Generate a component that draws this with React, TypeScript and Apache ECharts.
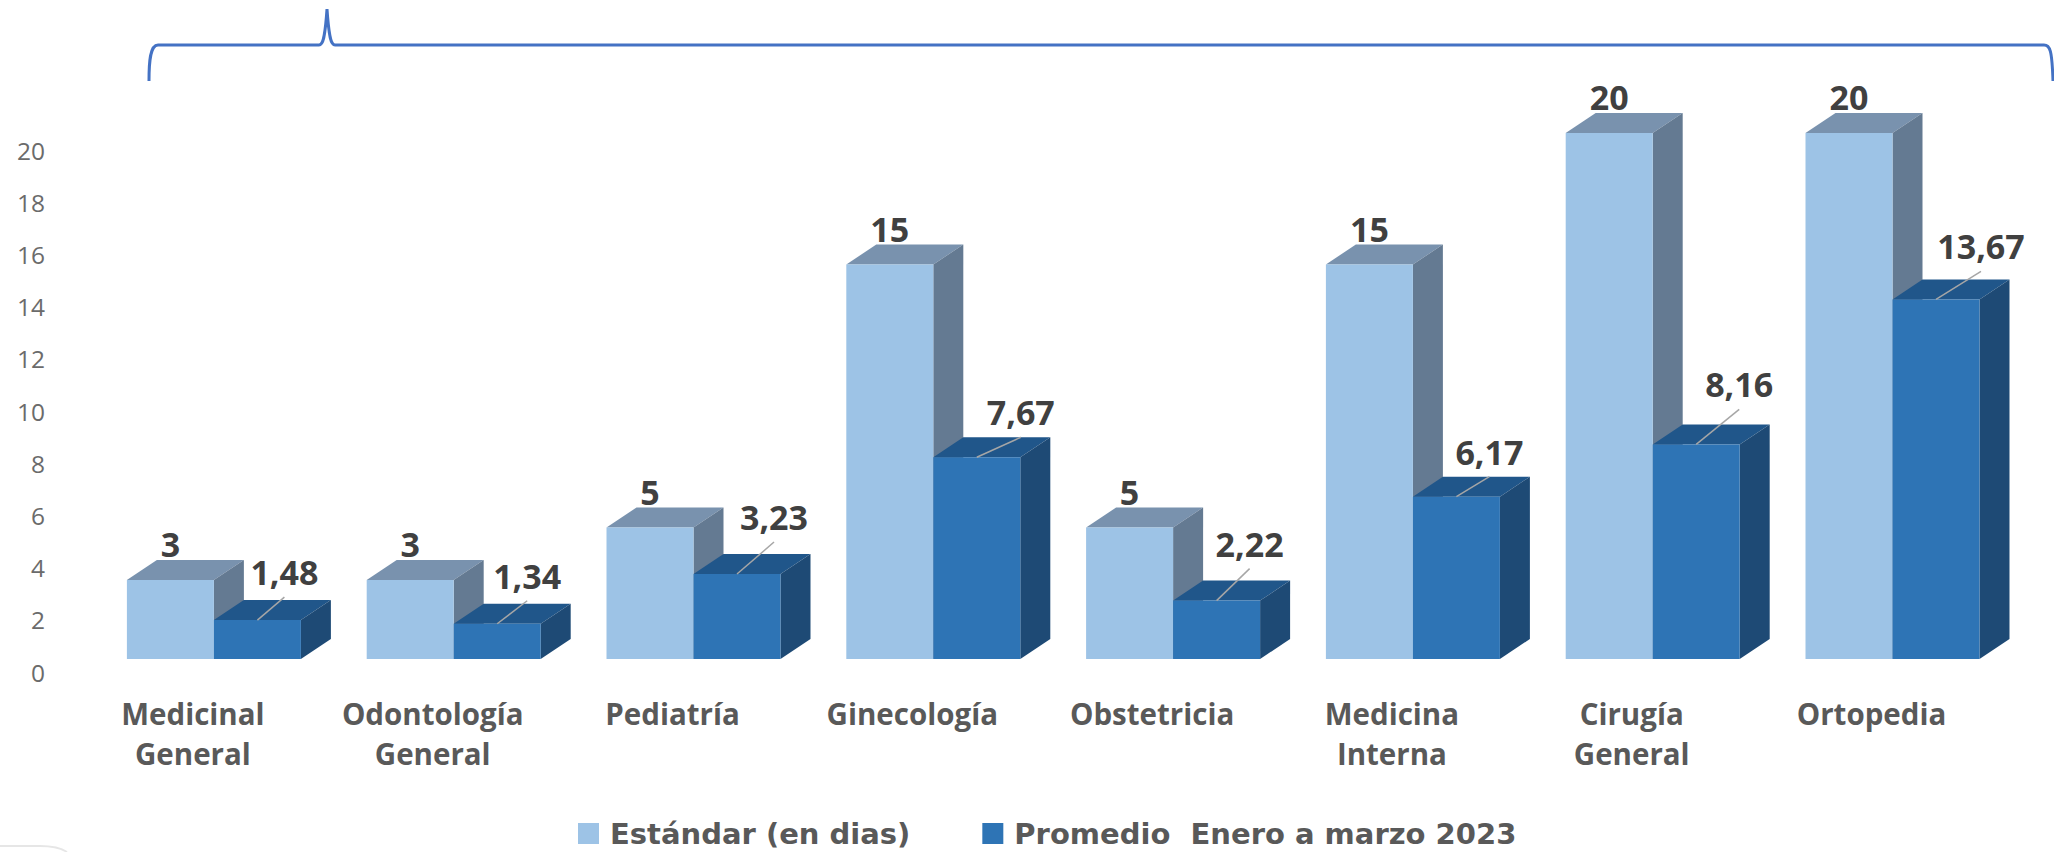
import React, { useEffect, useRef } from "react";
import * as echarts from "echarts";

const categories = [
  "Medicinal\nGeneral",
  "Odontología\nGeneral",
  "Pediatría",
  "Ginecología",
  "Obstetricia",
  "Medicina\nInterna",
  "Cirugía\nGeneral",
  "Ortopedia",
];
const estandar = [3, 3, 5, 15, 5, 15, 20, 20];
const promedio = [1.48, 1.34, 3.23, 7.67, 2.22, 6.17, 8.16, 13.67];
const axisTicks = [0, 20];

// Layout only: where each "Promedio" callout sits relative to its bar top.
const calloutDx = [27, 30, 37, 44, 33, 33, 43, 45];
const calloutDy = [-48, -48, -57, -45, -57, -45, -60, -53];

const FONT = "Open Sans";
const WIDE_FONT = "DejaVu Sans";
const DEPTH_X = 30;
const DEPTH_Y = 20;

const PAL_A = { front: "#9DC3E6", top: "#7992AE", side: "#647A92" };
const PAL_B = { front: "#2E74B5", top: "#20568A", side: "#1E4A75" };

const fmt = (v: number) => String(v).replace(".", ",");

function makeRender(pal: typeof PAL_A, first: boolean) {
  return (_params: any, api: any) => {
    const i = api.value(0);
    const v = api.value(1);
    const [cx, yTop] = api.coord([i, v]);
    const [, yBase] = api.coord([i, 0]);
    const w = api.size([1, 0])[0] * 0.3628;
    const x0 = first ? cx - w : cx;
    const x1 = x0 + w;
    const poly = (points: number[][], fill: string) => ({
      type: "polygon",
      shape: { points },
      style: { fill },
    });
    const children: any[] = [
      poly(
        [
          [x0, yTop],
          [x0 + DEPTH_X, yTop - DEPTH_Y],
          [x1 + DEPTH_X, yTop - DEPTH_Y],
          [x1, yTop],
        ],
        pal.top,
      ),
      poly(
        [
          [x1, yTop],
          [x1 + DEPTH_X, yTop - DEPTH_Y],
          [x1 + DEPTH_X, yBase - DEPTH_Y],
          [x1, yBase],
        ],
        pal.side,
      ),
      poly(
        [
          [x0, yTop],
          [x1, yTop],
          [x1, yBase],
          [x0, yBase],
        ],
        pal.front,
      ),
    ];
    const mid = (x0 + x1) / 2;
    let lx = mid;
    let ly = yTop - 36;
    if (!first) {
      lx = mid + calloutDx[i];
      ly = yTop + calloutDy[i];
      children.push({
        type: "line",
        shape: { x1: mid, y1: yTop, x2: lx, y2: ly + 25 },
        style: { stroke: "#A6A6A6", lineWidth: 1.5 },
      });
    }
    children.push({
      type: "text",
      style: {
        text: fmt(v),
        x: lx,
        y: ly,
        align: "center",
        verticalAlign: "middle",
        fontFamily: FONT,
        fontWeight: 700,
        fontSize: 34,
        fill: "#404040",
      },
    });
    return { type: "group", children };
  };
}

const BRACE =
  "M149 81 C149 62 150 45 158 45 L319 45 C323 45 325 38 327 9 C329 38 331 45 335 45 L2044 45 C2050 45 2052 50 2053 81";
const CORNER = "M0 846 L40 846 Q58 846 67 852";

export default function App() {
  const ref = useRef<HTMLDivElement>(null);
  useEffect(() => {
    document.body.style.margin = "0";
    echarts.graphic.registerShape("brace", echarts.graphic.extendPath(BRACE, {}));
    echarts.graphic.registerShape("corner", echarts.graphic.extendPath(CORNER, {}));
    const chart = echarts.init(ref.current!, undefined, { renderer: "svg" });
    chart.setOption({
      animation: false,
      backgroundColor: "#FFFFFF",
      grid: [
        { left: 94, width: 1918.4, top: 133, height: 526 },
        { left: 73, width: 1918.4, top: 150, height: 522 },
      ],
      xAxis: [
        { type: "category", gridIndex: 0, data: categories, show: false },
        {
          type: "category",
          gridIndex: 1,
          data: categories,
          axisLine: { show: false },
          axisTick: { show: false },
          axisLabel: {
            interval: 0,
            margin: 21,
            lineHeight: 40,
            fontFamily: FONT,
            fontWeight: 700,
            fontSize: 29.5,
            color: "#595959",
          },
        },
      ],
      yAxis: [
        { type: "value", gridIndex: 0, min: axisTicks[0], max: axisTicks[1], show: false },
        {
          type: "value",
          gridIndex: 1,
          min: axisTicks[0],
          max: axisTicks[1],
          interval: 2,
          axisLine: { show: false },
          axisTick: { show: false },
          splitLine: { show: false },
          axisLabel: { margin: 28, fontFamily: FONT, fontSize: 24.5, color: "#6B6B6B" },
        },
      ],
      legend: {
        left: 578,
        top: 819,
        padding: 0,
        itemWidth: 21,
        itemHeight: 21,
        itemGap: 72,
        icon: "rect",
        textStyle: {
          fontFamily: WIDE_FONT,
          fontWeight: 700,
          fontSize: 29,
          color: "#595959",
          padding: [0, 0, 0, 6],
        },
        data: ["Estándar (en dias)", "Promedio  Enero a marzo 2023"],
      },
      series: [
        {
          type: "custom",
          name: "Estándar (en dias)",
          itemStyle: { color: PAL_A.front },
          renderItem: makeRender(PAL_A, true),
          encode: { x: 0, y: 1 },
          data: estandar.map((v, i) => [i, v]),
        },
        {
          type: "custom",
          name: "Promedio  Enero a marzo 2023",
          itemStyle: { color: PAL_B.front },
          renderItem: makeRender(PAL_B, false),
          encode: { x: 0, y: 1 },
          data: promedio.map((v, i) => [i, v]),
        },
      ],
      graphic: [
        {
          type: "brace",
          x: 0,
          y: 0,
          silent: true,
          style: { fill: "none", stroke: "#4472C4", lineWidth: 3 },
        },
        {
          type: "corner",
          x: 0,
          y: 0,
          silent: true,
          style: { fill: "none", stroke: "#E6E6E6", lineWidth: 2 },
        },
      ],
    });
    return () => chart.dispose();
  }, []);
  return <div ref={ref} style={{ width: 2054, height: 852, display: "block", overflow: "hidden" }} />;
}
